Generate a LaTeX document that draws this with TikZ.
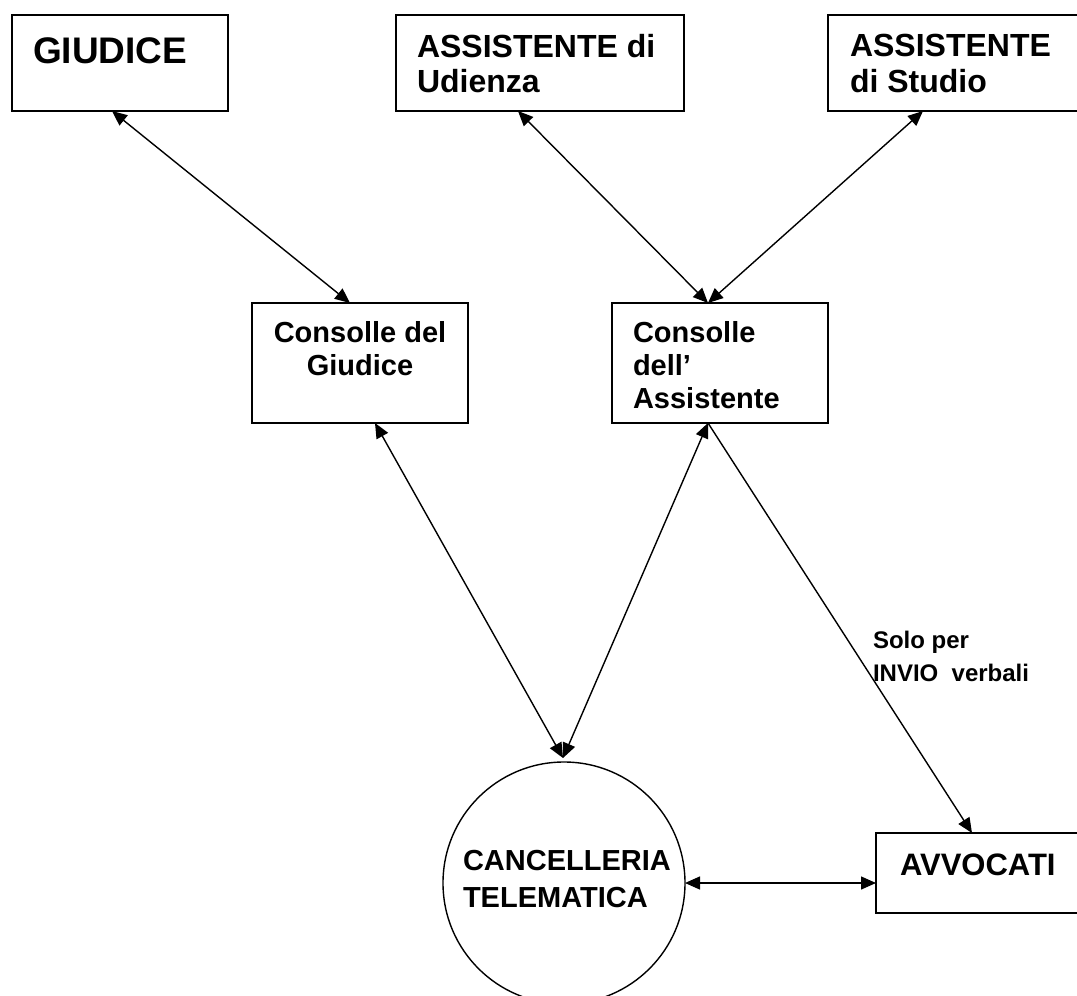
\documentclass[tikz,border=0pt]{standalone}
\usepackage{fontspec}
\setmainfont{Liberation Sans}
\usetikzlibrary{arrows.meta,calc}
\begin{document}
\begin{tikzpicture}[x=1pt,y=-1pt,
  box/.style={draw,line width=1.6pt,rectangle,inner sep=0pt,outer sep=0pt,anchor=north west},
  txt/.style={inner sep=0pt,outer sep=0pt,font=\bfseries,align=left,anchor=base west},
  link/.style={line width=1.4pt},
  both/.style={link,{Triangle[length=15pt,width=13pt]}-{Triangle[length=15pt,width=13pt]}},
  one/.style={link,-{Triangle[length=15pt,width=13pt]}}]
\useasboundingbox (0,0) rectangle (1077,996);

% boxes
\node[box,minimum width=216pt,minimum height=96pt] (giudice) at (12,15) {};
\node[box,minimum width=288pt,minimum height=96pt] (udienza) at (396,15) {};
\node[box,minimum width=300pt,minimum height=96pt] (studio) at (828,15) {};
\node[box,minimum width=216pt,minimum height=120pt] (cgiud) at (252,303) {};
\node[box,minimum width=216pt,minimum height=120pt] (cass) at (612,303) {};
\node[box,minimum width=260pt,minimum height=80pt] (avv) at (876,833) {};
\node[draw,circle,line width=1.4pt,minimum size=242pt,inner sep=0pt,outer sep=0pt] (canc) at (564,883) {};

% texts (multi-line nodes are placed by the baseline of their last line)
\node[txt,font=\bfseries\fontsize{37}{40}\selectfont] (tgiud) at (33,63) {GIUDICE};
\node[txt,font=\bfseries\fontsize{32}{35}\selectfont] (tud) at (417,92) {ASSISTENTE di\\Udienza};
\node[txt,font=\bfseries\fontsize{32}{36}\selectfont] (tst) at (850,92) {ASSISTENTE\\di Studio};
\node[txt,align=center,anchor=base,font=\bfseries\fontsize{29}{33}\selectfont] (tcg) at (360,375) {Consolle del\\Giudice};
\node[txt,font=\bfseries\fontsize{29}{33}\selectfont] (tca) at (633,408) {Consolle\\dell’\\Assistente};
\node[txt,font=\bfseries\fontsize{29}{37}\selectfont] (tcanc) at (463,907) {CANCELLERIA\\TELEMATICA};
\node[txt,font=\bfseries\fontsize{31}{34}\selectfont] (tavv) at (900,875) {AVVOCATI};
\node[txt,font=\bfseries\fontsize{24}{33}\selectfont] (tsolo) at (873,681) {Solo per\\INVIO\ \ verbali};

% connectors
\coordinate (tip) at ($(canc.north)+(-1,-4)$);
\draw[both] ($(giudice.south)+(-8,0)$) -- ($(cgiud.north)+(-10,0)$);
\draw[both] ($(udienza.south)+(-22,0)$) -- ($(cass.north)+(-12,0)$);
\draw[both] ($(studio.south west)+(95,0)$) -- ($(cass.north)+(-12,0)$);
\draw[both] ($(cgiud.south)+(15,0)$) -- (tip);
\draw[both] ($(cass.south)+(-12,0)$) -- (tip);
\draw[one] ($(cass.south)+(-12,0)$) -- ($(avv.north west)+(96,0)$);
\draw[both] (canc.east) -- (canc.east -| avv.west);
\end{tikzpicture}
\end{document}
